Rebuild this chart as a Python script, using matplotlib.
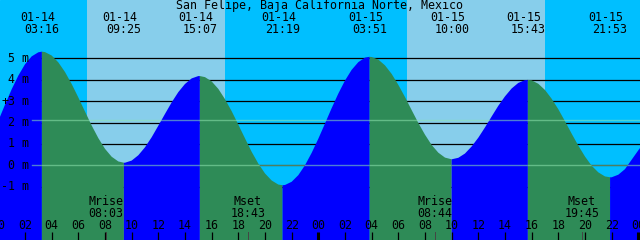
import numpy as np
import matplotlib
matplotlib.use('Agg')
import matplotlib.pyplot as plt

# tide extremes (hours from 01-14 00:00, metres)
ext_hours = [3.267, 9.417, 15.117, 21.317, 27.85, 34.0, 39.717, 45.883]
ext_levels = [5.31, 0.12, 4.17, -0.93, 5.07, 0.28, 3.99, -0.56]
ext_dates = ['01-14', '01-14', '01-14', '01-14', '01-15', '01-15', '01-15', '01-15']
ext_times = ['03:16', '09:25', '15:07', '21:19', '03:51', '10:00', '15:43', '21:53']

# tide level read every half hour, 00:00 01-14 .. 01:00 01-16
curve_hours = [i * 0.5 for i in range(99)]
curve_levels = [2.08, 2.83, 3.55, 4.19, 4.72, 5.09, 5.28, 5.29, 5.13, 4.81,
                4.36, 3.80, 3.17, 2.51, 1.86, 1.27, 0.77, 0.40, 0.18, 0.12,
                0.22, 0.47, 0.84, 1.31, 1.85, 2.40, 2.94, 3.42, 3.80, 4.06,
                4.17, 4.12, 3.92, 3.57, 3.09, 2.53, 1.90, 1.26, 0.63, 0.08,
                -0.38, -0.71, -0.90, -0.92, -0.77, -0.46, 0.00, 0.58, 1.24, 1.95,
                2.67, 3.35, 3.96, 4.46, 4.82, 5.03, 5.06, 4.94, 4.67, 4.27,
                3.76, 3.19, 2.58, 1.98, 1.43, 0.95, 0.59, 0.36, 0.28, 0.35,
                0.55, 0.88, 1.29, 1.77, 2.28, 2.78, 3.22, 3.59, 3.85, 3.98,
                3.97, 3.81, 3.52, 3.11, 2.62, 2.06, 1.48, 0.92, 0.41, -0.02,
                -0.33, -0.52, -0.56, -0.44, -0.18, 0.26, 0.70, 1.12, 1.55]

# daylight (sunrise, sunset)
day_start = [6.65, 30.65]
day_end = [17.0, 41.0]

# moon events
moon_hours = [8.05, 18.717, 32.733, 43.75]
moon_names = ['Mrise', 'Mset', 'Mrise', 'Mset']
moon_times = ['08:03', '18:43', '08:44', '19:45']

level_marks = [-1, 0, 1, 2, 3, 4, 5]
msl_level = 2.1
tick_hours = list(range(0, 50, 2))

title = 'San Felipe, Baja California Norte, Mexico'

# pixel helpers (13.333 px per hour, 21.4 px per metre)
PX_H = 13.333
PX_M = 21.4
def hx(px):
    return (px + 1.67) / PX_H
def my(py):
    return (165.3 - py) / PX_M

FONT = dict(family='DejaVu Sans Mono', fontsize=8.4, color='black')

fig = plt.figure(figsize=(6.4, 2.4), dpi=100)
ax = fig.add_axes([0, 0, 1, 1])
ax.set_xlim(hx(0), hx(640))
ax.set_ylim(my(240), my(0))
ax.axis('off')
ax.add_patch(plt.Rectangle((0, 0), 1, 1, transform=ax.transAxes,
                           color='#00BFFF', zorder=0))
for s, e in zip(day_start, day_end):
    ax.axvspan(s, e, color='#87CEEB', lw=0, zorder=1)

for v in level_marks:
    ax.axhline(v, xmin=32 / 640, color='black', lw=0.9, zorder=2)

# merge curve with extremes
h = np.array(curve_hours + ext_hours, dtype=float)
lv = np.array(curve_levels + ext_levels, dtype=float)
h, idx = np.unique(h, return_index=True)
lv = lv[idx]

bounds = [h[0]] + ext_hours + [h[-1]]
for b0, b1 in zip(bounds[:-1], bounds[1:]):
    m = (h >= b0) & (h <= b1)
    rising = lv[m][-1] > lv[m][0]
    ax.fill_between(h[m], lv[m], -10, color='#0000FF' if rising else '#2E8B57',
                    lw=0, zorder=3)

for v in [0, msl_level]:
    ax.axhline(v, xmin=32 / 640, color='#8FE6B0', alpha=0.55, lw=1.0, zorder=4)

for v in level_marks:
    ax.text(hx(29), v, f'{v} m', ha='right', va='center', zorder=6, **FONT)
ax.text(hx(5), 3, '+', ha='center', va='center', zorder=6, **FONT)

for t, d, s in zip(ext_hours, ext_dates, ext_times):
    ax.text(t - 0.3, my(17.5), d, ha='center', va='center', zorder=6, **FONT)
    ax.text(t, my(29.5), s, ha='center', va='center', zorder=6, **FONT)

ax.text(0.5, my(5), title, transform=ax.get_yaxis_transform(), ha='center',
        va='center', zorder=6, **FONT)

for t, n, s in zip(moon_hours, moon_names, moon_times):
    ax.text(t, my(201.5), n, ha='center', va='center', zorder=6, **FONT)
    ax.text(t, my(213.5), s, ha='center', va='center', zorder=6, **FONT)
    ax.plot([t, t], [my(232), my(240)], color='#444444', lw=0.7, zorder=5)

for t in tick_hours:
    ax.text(t, my(225.5), f'{t % 24:02d}', ha='center', va='center', zorder=6, **FONT)
    ax.plot([t, t], [my(232), my(240)], color='black',
            lw=2.2 if t % 24 == 0 else 0.9, solid_capstyle='butt', zorder=5)

fig.savefig('out.png', dpi=100)
plt.close(fig)
